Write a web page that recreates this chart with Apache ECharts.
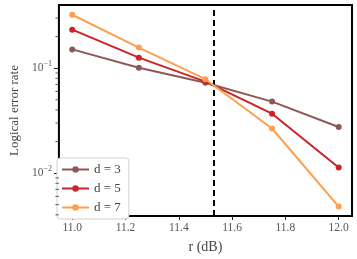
<!DOCTYPE html>
<html><head><meta charset="utf-8">
<script src="https://cdn.jsdelivr.net/npm/echarts@6/dist/echarts.min.js"></script>
<style>html,body{margin:0;padding:0;background:#fff}#c{width:357px;height:259px}</style>
</head><body><div id="c"></div>
<script>
const rValues = [11.0, 11.25, 11.5, 11.75, 12.0];
const seriesNames = ['d = 3', 'd = 5', 'd = 7'];
const d3 = [0.151, 0.101, 0.0725, 0.048, 0.0275];
const d5 = [0.233, 0.126, 0.0745, 0.0368, 0.0113];
const d7 = [0.323, 0.157, 0.0785, 0.0266, 0.0048];
const threshold = 11.525;
const xTicks = [11.0, 11.2, 11.4, 11.6, 11.8, 12.0];
const yTicks = [0.01, 0.1];
const yMinor = [0.004,0.005,0.006,0.007,0.008,0.009,0.02,0.03,0.04,0.05,0.06,0.07,0.08,0.09,0.2,0.3];
const colors = ['#8c5a55', '#cc2228', '#ff9f4d'];

const FONT = 'Liberation Serif';
const chart = echarts.init(document.getElementById('c'), null, {renderer:'canvas'});
const mk = (name, vals, i) => ({
  name, type:'line', data: rValues.map((r,k)=>[r, vals[k]]),
  symbol:'circle', symbolSize:6, lineStyle:{width:2, color:colors[i]},
  itemStyle:{color:colors[i]}, z: 3 + i, animation:false
});
const series = [mk(seriesNames[0], d3, 0), mk(seriesNames[1], d5, 1), mk(seriesNames[2], d7, 2)];
series.push({
  type:'line', data:[], silent:true, animation:false,
  markLine:{symbol:['none','none'], silent:true, label:{show:false},
    lineStyle:{color:'#000', type:[6,4], width:2}, data:[{xAxis: threshold}], animation:false}
});
series.push({
  type:'custom', coordinateSystem:'cartesian2d', data: [[11.0, 0.1]], silent:true, animation:false, clip:false, z:20,
  renderItem:(params, api)=>{
    const left = params.coordSys.x;
    return {type:'group', children: yMinor.map(v=>{
      const y = api.coord([11.0, v])[1];
      return {type:'line', shape:{x1:left-3.5, y1:y, x2:left, y2:y}, style:{stroke:'#333', lineWidth:0.8}};
    })};
  }
});
chart.setOption({
  animation:false,
  grid:{left:50, right:5, top:5, bottom:41, show:true, borderColor:'#000', borderWidth:2, backgroundColor:'transparent'},
  xAxis:{type:'value', min:10.95, max:12.05, name:'r (dB)', nameLocation:'middle', nameGap:24,
    nameTextStyle:{fontFamily:FONT, fontSize:14, color:'#444'},
    axisLine:{show:false}, splitLine:{show:false},
    axisTick:{show:true, length:4, customValues:xTicks, lineStyle:{color:'#222'}},
    axisLabel:{customValues:xTicks, formatter:v=>v.toFixed(1), fontFamily:FONT, fontSize:11.5, color:'#555', margin:6}},
  yAxis:{type:'log', logBase:10, min:0.0039, max:0.40, name:'Logical error rate', nameLocation:'middle', nameGap:37,
    nameTextStyle:{fontFamily:FONT, fontSize:13, color:'#444'},
    axisLine:{show:false}, splitLine:{show:false}, minorTick:{show:false},
    axisTick:{show:true, length:5, customValues:yTicks, lineStyle:{color:'#222'}},
    axisLabel:{customValues:yTicks, margin:7,
      formatter:v=> v < 0.05 ? '{a|10}{b|−2}' : '{a|10}{b|−1}',
      rich:{a:{fontFamily:FONT, fontSize:11.5, color:'#555'}, b:{fontFamily:FONT, fontSize:8, color:'#555', padding:[0,0,8,0]}}}},
  legend:{data:seriesNames, orient:'vertical', left:57, top:158, itemWidth:27, itemHeight:8, itemGap:6,
    backgroundColor:'#fff', borderColor:'#d0d0d0', borderWidth:1, borderRadius:3, padding:[5,8,5,4],
    textStyle:{fontFamily:FONT, fontSize:13, color:'#444'}},
  series
});
</script></body></html>
